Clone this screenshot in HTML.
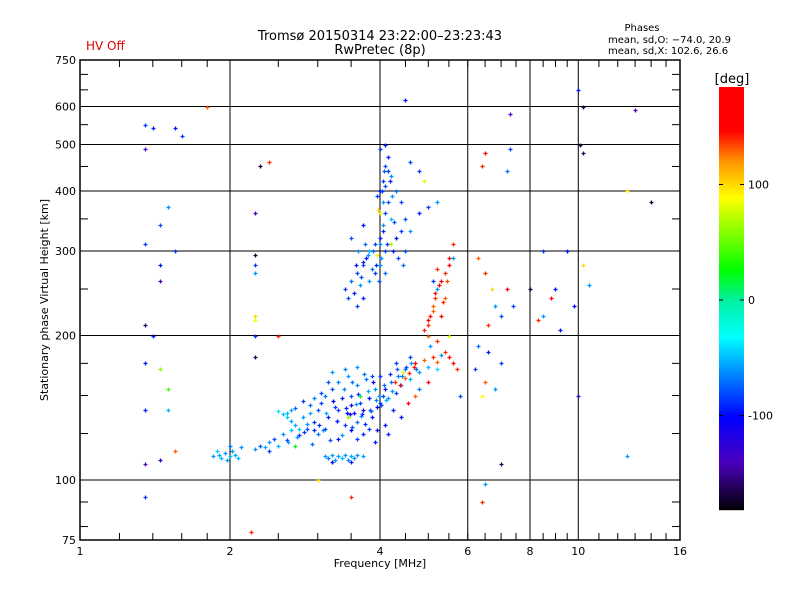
<!DOCTYPE html>
<html><head><meta charset="utf-8"><style>
body{margin:0;background:#fff;}
svg{display:block;font-family:"DejaVu Sans","Liberation Sans",sans-serif;}
</style></head><body>
<svg id="chart" width="800" height="600" viewBox="0 0 800 600" xmlns="http://www.w3.org/2000/svg">
<rect width="800" height="600" fill="#fff"/>
<text x="86" y="50" font-size="12" fill="#e00000">HV Off</text>
<text x="380" y="40" font-size="13" text-anchor="middle">Tromsø 20150314 23:22:00–23:23:43</text>
<text x="380" y="54" font-size="13" text-anchor="middle">RwPretec (8p)</text>
<text x="642" y="31" font-size="10" text-anchor="middle">Phases</text>
<text x="608" y="43" font-size="10">mean, sd,O: −74.0, 20.9</text>
<text x="608" y="54" font-size="10">mean, sd,X: 102.6, 26.6</text>
<g id="grid"></g>
<g id="points"></g>
<g id="axes"></g>
<text x="380" y="567" font-size="11" text-anchor="middle">Frequency [MHz]</text>
<text transform="translate(48,300) rotate(-90)" font-size="11" text-anchor="middle">Stationary phase Virtual Height [km]</text>
<text x="732" y="83" font-size="13" text-anchor="middle">[deg]</text>
<g id="cbar"></g>
</svg>
<script>
const freqs=[1.85,1.9,1.92,1.95,1.97,2.0,2.02,2.05,2.08,1.88,2.1,2.0,
2.25,2.3,2.35,2.4,2.45,2.5,2.55,2.6,2.65,2.7,2.75,2.8,2.85,2.9,2.95,2.6,2.55,2.65,2.5,2.7,2.4,
3.0,3.05,3.1,3.15,3.2,3.25,3.3,3.35,3.4,3.45,3.5,3.55,3.6,3.65,3.7,3.75,3.8,3.85,3.9,3.95,3.1,3.3,3.5,3.6,3.8,3.2,3.4,3.6,3.7,3.5,3.3,3.0,2.95,3.15,3.85,3.9,3.45,3.65,
3.1,3.15,3.2,3.25,3.3,3.35,3.4,3.45,3.5,3.55,3.6,3.7,3.2,3.5,
4.0,4.05,4.1,4.15,4.2,4.3,4.35,4.4,4.5,4.6,4.7,4.8,4.9,5.0,5.1,5.2,5.3,5.4,5.5,4.25,4.4,4.55,4.7,4.8,4.1,4.15,5.0,5.2,4.6,4.3,4.45,5.6,5.7,4.0,
3.4,3.45,3.5,3.55,3.6,3.65,3.7,3.75,3.8,3.85,3.9,3.95,4.0,4.05,4.1,4.15,4.2,4.0,4.05,4.1,4.15,4.2,4.3,4.4,4.5,4.6,4.25,4.35,4.45,3.9,3.8,3.7,3.6,4.0,4.1,4.2,4.3,4.0,4.05,3.95,4.1,4.15,3.5,3.7,4.4,4.5,4.8,5.0,5.2,4.9,4.8,4.6,4.0,4.1,
5.0,5.05,5.1,5.15,5.2,5.3,5.4,5.5,5.6,5.0,5.2,5.6,5.4,5.3,5.5,5.1,
6.3,6.5,6.7,6.8,7.0,6.6,6.2,6.5,6.8,7.0,6.3,6.4,6.6,7.2,7.4,
8.0,8.3,8.5,8.8,9.0,9.5,9.8,10.2,10.5,10.0,8.5,9.2,
1.35,1.4,1.55,1.6,1.35,4.5,7.3,7.3,10.0,10.2,10.1,10.2,13.0,6.5,6.4,2.4,1.8,12.5,14.0,7.2,
1.35,1.45,1.45,1.35,1.4,1.35,1.5,1.45,1.35,1.5,1.35,1.45,1.35,1.5,1.45,1.55,1.55,
2.25,2.25,2.25,2.25,2.25,2.25,2.25,2.5,2.3,2.25,2.2,
3.0,3.5,6.5,7.0,12.5,6.4,5.8,
2.6,2.65,2.7,2.75,2.8,2.85,2.9,2.95,3.05,3.12,3.22,3.28,3.38,3.42,3.48,3.52,3.58,3.62,3.68,3.72,3.78,3.82,3.88,3.92,3.98,4.02,4.08,4.12,4.18,4.22,4.28,4.32,4.38,4.42,4.48,4.52,4.58,4.62,4.68,4.72,
2.62,2.72,2.82,2.92,3.02,3.08,3.18,3.28,3.36,3.44,3.52,3.6,3.66,3.74,3.84,3.94,
3.98,4.02,4.06,4.1,4.14,4.18,4.22,4.26,3.88,3.92,3.96,4.0,4.04,4.08,3.58,3.62,3.66,3.7,3.74,3.78,
4.9,5.0,5.1,5.15,5.25,5.35,5.45,5.5,5.05,5.2];
const heights=[112,113,111,114,110,112,115,113,111,115,117,118,
116,118,117,120,122,118,125,121,127,130,124,135,128,138,132,135,137,140,139,118,115,
140,145,150,135,155,142,160,148,130,165,150,138,158,145,125,162,148,135,155,142,128,122,127,132,128,168,170,172,140,143,140,125,148,160,165,120,135,150,
112,111,113,110,112,111,113,110,112,111,113,112,109,109,
145,150,155,148,160,152,165,158,170,162,175,168,178,172,180,176,182,185,180,140,135,145,150,155,130,125,160,170,180,175,168,175,170,165,
250,240,260,245,270,255,280,290,300,275,310,295,320,340,360,380,350,400,420,450,470,430,400,380,350,330,300,290,280,270,260,240,230,280,300,310,320,360,380,390,410,440,320,340,330,300,360,370,380,420,440,460,490,500,
210,220,230,240,250,260,270,280,290,200,195,310,240,220,200,260,
290,270,250,230,220,210,170,160,155,175,190,150,185,250,230,
250,215,220,240,250,300,230,280,255,150,300,205,
550,540,540,520,490,620,580,490,650,600,500,480,590,480,450,460,600,400,380,440,
310,280,260,210,200,175,155,170,140,140,108,110,92,370,340,300,115,
295,280,270,220,215,200,180,200,450,360,78,
100,92,98,108,112,90,150,
138,133,141,128,146,131,143,127,152,138,146,133,155,141,137,160,144,151,137,166,153,140,160,147,150,143,158,147,166,153,160,170,158,165,163,172,167,175,172,170,
120,123,126,119,130,127,121,133,124,138,129,122,136,131,139,127,
260,290,330,270,310,420,390,345,300,280,365,310,400,440,280,300,265,285,310,295,
205,215,225,245,255,235,260,290,190,275];
const phases=[-60,-55,-50,-60,-55,-50,-60,-55,-50,-45,-60,-65,
-60,-75,-55,-60,-80,-50,-60,-85,-50,-55,-85,-60,-80,-55,-90,-45,-50,-55,-40,20,-85,
-80,-85,-70,-95,-80,-85,-65,-95,-85,-60,-80,-100,-65,-85,-95,-70,-100,-95,-60,-110,-85,-95,-100,-70,-85,-60,-65,-60,-120,-110,-85,-70,-65,-80,-80,-95,60,20,
-60,-65,-55,-60,-60,-50,-60,-65,-55,-60,-60,-60,-100,-95,
-85,-80,-95,-60,-70,-85,-65,-60,-70,-50,150,-60,130,-50,140,130,-60,140,150,-95,-100,150,130,-65,-100,-95,150,-40,-80,-85,80,160,140,-85,
-85,-80,-70,-95,-85,-60,-80,-95,-50,-70,-85,80,-95,-60,-85,-80,-50,-95,-85,-80,-95,-60,-70,-85,-80,-60,-95,-85,-70,-85,-60,-95,-85,-60,-80,70,-95,80,-60,-85,-80,-85,-80,-95,-85,-80,-95,-85,-60,80,-85,-80,-85,-95,
140,150,130,140,-60,150,140,150,-60,130,140,140,130,150,80,-85,
130,140,100,-60,-80,140,-85,130,-60,-85,-70,90,-95,150,-85,
-170,140,-60,150,-95,-95,-100,100,-60,-130,-85,-95,
-85,-95,-95,-85,-140,-95,-140,-85,-95,-160,-170,-160,-140,150,140,140,130,90,-170,-70,
-85,-95,-140,-160,-95,-95,40,60,-95,-50,-140,-130,-85,-60,-80,-85,130,
-170,-85,-60,100,90,-85,-160,140,-170,-140,140,
100,140,-60,-160,-60,140,-80,
-50,-55,-75,-45,-85,-60,-70,-90,-80,-55,-100,-75,-65,-90,-110,-70,-60,-85,-95,-70,-55,-80,-100,-65,-60,-85,-70,-50,-90,-60,140,-75,150,-65,130,-80,140,-60,150,-70,
-55,-60,-85,-70,-90,-65,-80,-95,-60,-100,-75,-85,-65,-90,-70,-100,
-80,-60,-90,-70,-85,-95,-60,-80,-70,-90,100,-60,-85,-75,-95,-60,-80,-90,-70,-60,
140,150,130,145,150,140,135,150,-60,140];
const xTickLabels=[1,2,4,6,8,10,16];
const yTickLabels=[75,100,200,300,400,500,600,750];
const cbarTickLabels=[100,0,-100];

const NS="http://www.w3.org/2000/svg";
const L=80,R=680,T=60,B=540;
function xs(f){return L+(R-L)*Math.log2(f)/4;}
function ys(h){return B-(B-T)*Math.log10(h/75);}
function mk(tag,attrs,parent){const e=document.createElementNS(NS,tag);for(const k in attrs)e.setAttribute(k,attrs[k]);parent.appendChild(e);return e;}
const stops=[[-182,[0,0,0]],[-140,[75,0,190]],[-101,[0,0,255]],[-65,[0,130,255]],[-32,[0,255,255]],[0,[0,240,160]],[26,[0,255,0]],[89,[255,255,0]],[120,[255,150,0]],[147,[255,0,0]],[190,[255,0,0]]];
function color(p){p=Math.max(-182,Math.min(190,p));for(let i=0;i<stops.length-1;i++){const a=stops[i],b=stops[i+1];if(p<=b[0]){const t=(p-a[0])/(b[0]-a[0]);const c=a[1].map((v,j)=>Math.round(v+(b[1][j]-v)*t));return `rgb(${c[0]},${c[1]},${c[2]})`;}}return "red";}
const grid=document.getElementById('grid'),axes=document.getElementById('axes'),pts=document.getElementById('points'),cb=document.getElementById('cbar');
[2,4,6,8,10].forEach(f=>{const l=mk('line',{x1:xs(f),x2:xs(f),y1:T,y2:B,stroke:'#000','stroke-width':1},grid);

});
[100,200,300,400,500,600].forEach(h=>{const l=mk('line',{x1:L,x2:R,y1:ys(h),y2:ys(h),stroke:'#000','stroke-width':1},grid);

});
for(let i=0;i<freqs.length;i++){const x=Math.round(xs(freqs[i]))+0.5,y=Math.round(ys(heights[i]))+0.5,c=color(phases[i]);
const g=mk('path',{d:`M${x-2} ${y}H${x+2}M${x} ${y-2}V${y+2}`,stroke:c,'stroke-width':1.3},pts);

}
const frame=mk('rect',{x:L,y:T,width:R-L,height:B-T,fill:'none',stroke:'#000','stroke-width':1.5},axes);


let minorX=[];for(let f=1.2;f<2;f+=0.2)minorX.push(f);for(let f=2.5;f<10;f+=0.5)minorX.push(f);for(let f=11;f<16;f+=1)minorX.push(f);
minorX.forEach(f=>{const x=xs(f);mk('line',{x1:x,x2:x,y1:B,y2:B-7,stroke:'#000'},axes);mk('line',{x1:x,x2:x,y1:T,y2:T+7,stroke:'#000'},axes);});
let minorY=[80,90,125,150,175,250,350,450,550,650,700];
minorY.forEach(h=>{const y=ys(h);mk('line',{x1:L,x2:L+8,y1:y,y2:y,stroke:'#000'},axes);mk('line',{x1:R,x2:R-8,y1:y,y2:y,stroke:'#000'},axes);});
xTickLabels.forEach(f=>{const t=mk('text',{x:xs(f),y:B+15,'font-size':11,'text-anchor':'middle'},axes);t.textContent=f;

});
yTickLabels.forEach(h=>{const t=mk('text',{x:L-4,y:ys(h)+4,'font-size':11,'text-anchor':'end'},axes);t.textContent=h;

});
const CT=87,CB=510;function cy(p){return 300-1.155*p;}
for(let y=CT;y<CB;y++){const p=(300-y)/1.155;mk('rect',{x:719,y:y,width:25,height:1.2,fill:color(p)},cb);}
cbarTickLabels.forEach(p=>{const y=cy(p);mk('line',{x1:744,x2:740,y1:y,y2:y,stroke:'#000'},cb);mk('line',{x1:719,x2:723,y1:y,y2:y,stroke:'#000'},cb);
const t=mk('text',{x:748,y:y+4,'font-size':11},cb);t.textContent=p;

});
</script>
</body></html>
